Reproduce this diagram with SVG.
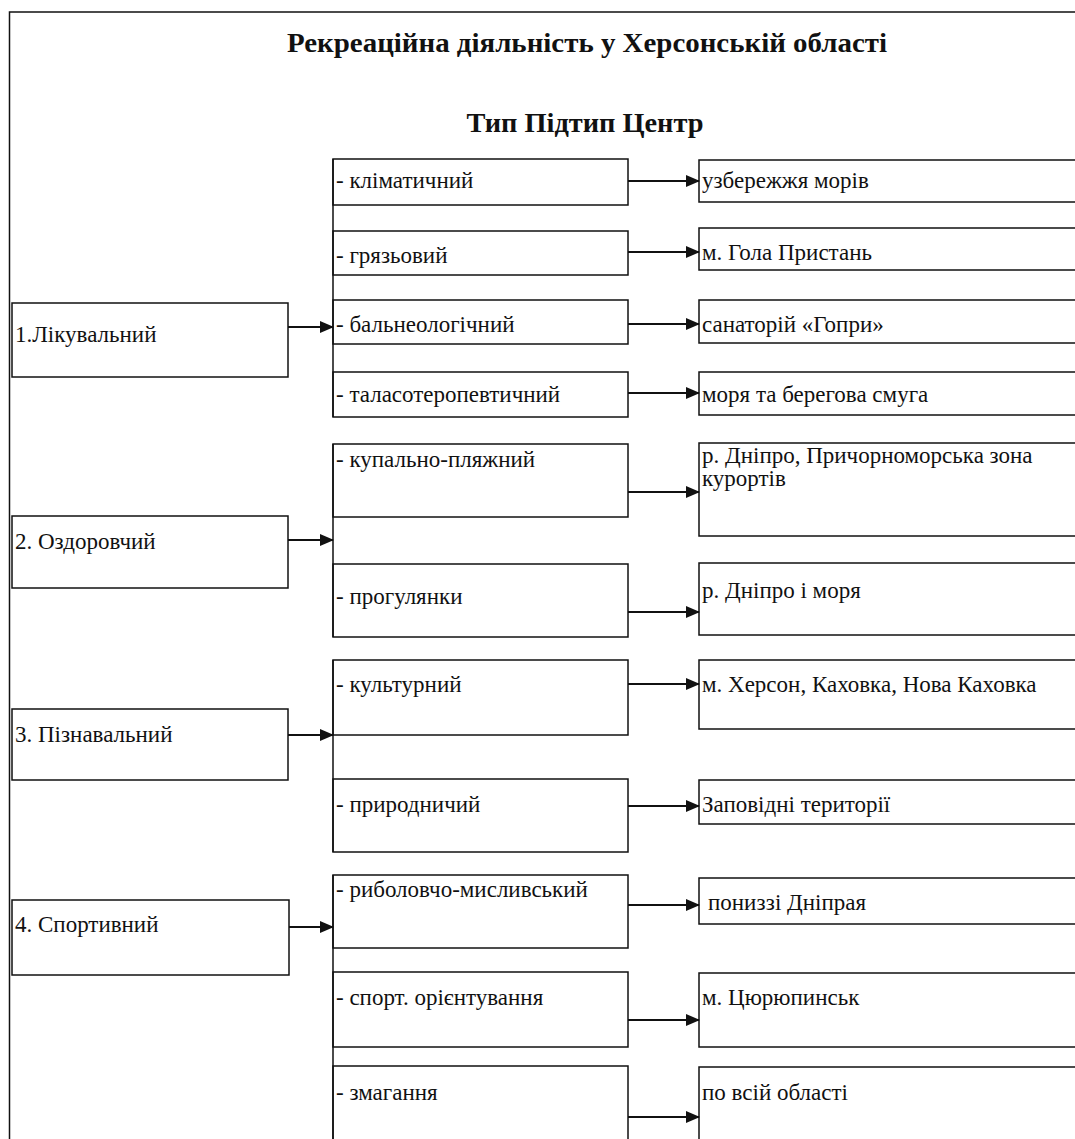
<svg xmlns="http://www.w3.org/2000/svg" width="1075" height="1139" viewBox="0 0 1075 1139">
<defs>
<style>
.b{fill:#fff;stroke:#111;stroke-width:1.5}
.l{fill:none;stroke:#111;stroke-width:1.5}
.c{fill:none;stroke:#111;stroke-width:1.8}
text{font-family:"Liberation Serif","Times New Roman",serif;fill:#111}
.t{font-size:23px}
.h{font-size:27px;font-weight:bold;text-anchor:middle}
</style>
<marker id="ar" markerUnits="userSpaceOnUse" markerWidth="14" markerHeight="12" refX="13" refY="6" orient="auto">
<path d="M0,0 L14,6 L0,12 z" fill="#111"/>
</marker>
</defs>
<rect width="1075" height="1139" fill="#fff"/>
<g id="frame">
<path class="l" d="M1080,12 H9.5 V1145"/>
</g>
<g id="titles">
<text class="h" x="587" y="52" textLength="600" lengthAdjust="spacingAndGlyphs">Рекреаційна діяльність у Херсонській області</text>
<text class="h" x="585" y="132" textLength="237" lengthAdjust="spacingAndGlyphs">Тип Підтип Центр</text>
</g>
<g id="types">
<g id="type1"><rect class="b" x="12" y="303" width="276" height="74"/><text class="t" x="15" y="342">1.Лікувальний</text></g>
<g id="type2"><rect class="b" x="12" y="516" width="276" height="72"/><text class="t" x="15" y="549">2. Оздоровчий</text></g>
<g id="type3"><rect class="b" x="12" y="709" width="276" height="71"/><text class="t" x="15" y="742">3. Пізнавальний</text></g>
<g id="type4"><rect class="b" x="12" y="900" width="277" height="75"/><text class="t" x="15" y="932">4. Спортивний</text></g>
</g>
<g id="subtypes">
<g id="s1a"><rect class="b" x="333" y="159" width="295" height="46"/><text class="t" x="336" y="188">- кліматичний</text></g>
<g id="s1b"><rect class="b" x="333" y="231" width="295" height="44"/><text class="t" x="336" y="263">- грязьовий</text></g>
<g id="s1c"><rect class="b" x="333" y="300" width="295" height="44"/><text class="t" x="336" y="332">- бальнеологічний</text></g>
<g id="s1d"><rect class="b" x="333" y="372" width="295" height="45"/><text class="t" x="336" y="402">- таласотеропевтичний</text></g>
<g id="s2a"><rect class="b" x="333" y="444" width="295" height="73"/><text class="t" x="336" y="467">- купально-пляжний</text></g>
<g id="s2b"><rect class="b" x="333" y="564" width="295" height="73"/><text class="t" x="336" y="604">- прогулянки</text></g>
<g id="s3a"><rect class="b" x="333" y="660" width="295" height="75"/><text class="t" x="336" y="692">- культурний</text></g>
<g id="s3b"><rect class="b" x="333" y="779" width="295" height="73"/><text class="t" x="336" y="812">- природничий</text></g>
<g id="s4a"><rect class="b" x="333" y="875" width="295" height="73"/><text class="t" x="336" y="897">- риболовчо-мисливський</text></g>
<g id="s4b"><rect class="b" x="333" y="972" width="295" height="75"/><text class="t" x="336" y="1005">- спорт. орієнтування</text></g>
<g id="s4c"><rect class="b" x="333" y="1066" width="295" height="90"/><text class="t" x="336" y="1100">- змагання</text></g>
</g>
<g id="centers">
<g id="c1a"><rect class="b" x="699" y="160" width="390" height="42"/><text class="t" x="702" y="188">узбережжя морів</text></g>
<g id="c1b"><rect class="b" x="699" y="228" width="390" height="42"/><text class="t" x="702" y="260">м. Гола Пристань</text></g>
<g id="c1c"><rect class="b" x="699" y="300" width="390" height="43"/><text class="t" x="702" y="332">санаторій «Гопри»</text></g>
<g id="c1d"><rect class="b" x="699" y="372" width="390" height="43"/><text class="t" x="702" y="402">моря та берегова смуга</text></g>
<g id="c2a"><rect class="b" x="699" y="443" width="390" height="93"/><text class="t" x="702" y="463">р. Дніпро, Причорноморська зона</text><text class="t" x="702" y="486">курортів</text></g>
<g id="c2b"><rect class="b" x="699" y="563" width="390" height="72"/><text class="t" x="702" y="598">р. Дніпро і моря</text></g>
<g id="c3a"><rect class="b" x="699" y="660" width="390" height="69"/><text class="t" x="702" y="692">м. Херсон, Каховка, Нова Каховка</text></g>
<g id="c3b"><rect class="b" x="699" y="780" width="390" height="44"/><text class="t" x="702" y="812">Заповідні території</text></g>
<g id="c4a"><rect class="b" x="699" y="878" width="390" height="46"/><text class="t" x="708" y="910">пониззі Дніпрая</text></g>
<g id="c4b"><rect class="b" x="699" y="973" width="390" height="74"/><text class="t" x="702" y="1005">м. Цюрюпинськ</text></g>
<g id="c4c"><rect class="b" x="699" y="1067" width="390" height="90"/><text class="t" x="702" y="1100">по всій області</text></g>
</g>
<g id="connectors">
<path class="l" d="M333,159 V417 M333,444 V637 M333,660 V852 M333,875 V1145"/>
<path class="c" marker-end="url(#ar)" d="M288,327 H333"/>
<path class="c" marker-end="url(#ar)" d="M288,540 H333"/>
<path class="c" marker-end="url(#ar)" d="M288,735 H333"/>
<path class="c" marker-end="url(#ar)" d="M289,927 H333"/>
<path class="c" marker-end="url(#ar)" d="M628,181 H699"/>
<path class="c" marker-end="url(#ar)" d="M628,252 H699"/>
<path class="c" marker-end="url(#ar)" d="M628,324 H699"/>
<path class="c" marker-end="url(#ar)" d="M628,393 H699"/>
<path class="c" marker-end="url(#ar)" d="M628,492 H699"/>
<path class="c" marker-end="url(#ar)" d="M628,612 H699"/>
<path class="c" marker-end="url(#ar)" d="M628,684 H699"/>
<path class="c" marker-end="url(#ar)" d="M628,806 H699"/>
<path class="c" marker-end="url(#ar)" d="M628,905 H699"/>
<path class="c" marker-end="url(#ar)" d="M628,1020 H699"/>
<path class="c" marker-end="url(#ar)" d="M628,1117 H699"/>
</g>
</svg>
